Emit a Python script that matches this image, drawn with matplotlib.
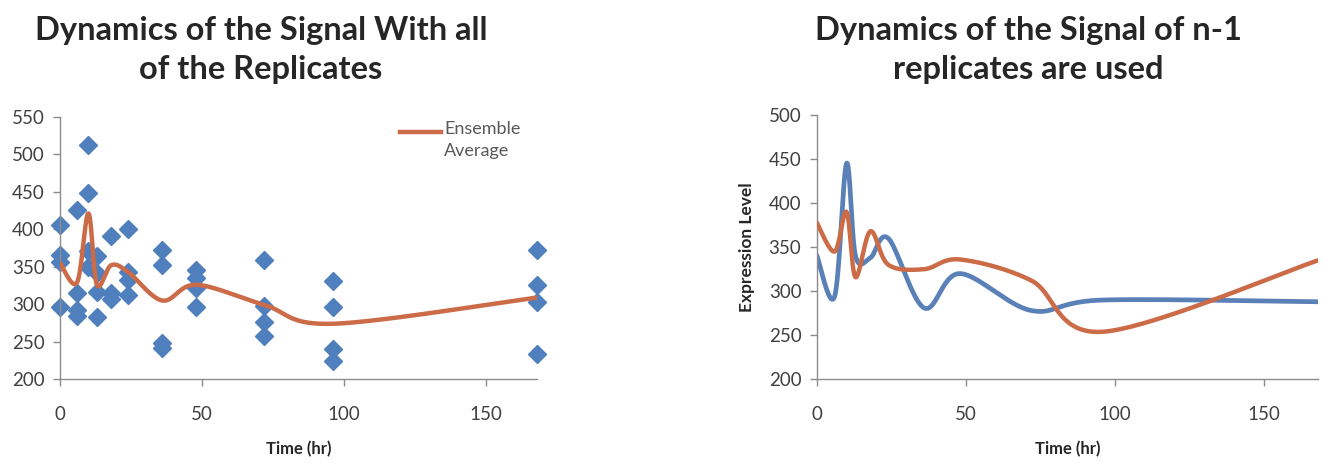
import numpy as np
import matplotlib
matplotlib.use("Agg")
import matplotlib.pyplot as plt
from matplotlib.lines import Line2D

plt.rcParams['font.family'] = ['Lato', 'DejaVu Sans']

# ---------------- data ----------------
# Left panel: replicate measurements at each time point
rep_times = [0, 6, 10, 13, 18, 24, 36, 48, 72, 96, 168]
rep_values = [
    [406, 366, 356, 296],
    [426, 315, 292, 285],
    [512, 448, 371, 350],
    [364, 342, 317, 283],
    [391, 315, 307],
    [400, 343, 332, 312],
    [372, 353, 249, 242],
    [346, 335, 322, 296],
    [359, 298, 277, 258],
    [331, 296, 240, 225],
    [372, 326, 303, 234],
]
ensemble_avg = [355, 329, 421, 326, 352, 343, 305, 326, 299, 274, 309]

# Right panel: n-1 replicate averages
blue_series = [341, 294, 445, 340, 338, 360, 281, 320, 278, 290, 288]
orange_series = [378, 345, 390, 316, 368, 330, 325, 336, 312, 254, 335]

left_title = "Dynamics of the Signal With all\nof the Replicates"
right_title = "Dynamics of the Signal of n-1\nreplicates are used"
x_label = "Time (hr)"
y_label_right = "Expression Level"
legend_label = "Ensemble\nAverage"

BLUE = "#4f7fbd"
BLUE_LINE = "#5a80b8"
ORANGE = "#cc6b47"
AXIS_GRAY = "#8c8c8c"
TEXT_GRAY = "#595959"


def excel_smooth(x, y, n=40):
    """Excel-style smoothed line: cubic Bezier segments through the points."""
    pts = np.column_stack([np.asarray(x, float), np.asarray(y, float)])
    out = []
    m = len(pts)
    for i in range(m - 1):
        p0 = pts[i - 1] if i > 0 else pts[i]
        p1 = pts[i]
        p2 = pts[i + 1]
        p3 = pts[i + 2] if i + 2 < m else pts[i + 1]
        c1 = p1 + (p2 - p0) / 6.0
        c2 = p2 - (p3 - p1) / 6.0
        t = np.linspace(0, 1, n, endpoint=(i == m - 2))[:, None]
        seg = ((1 - t) ** 3) * p1 + 3 * ((1 - t) ** 2) * t * c1 + 3 * (1 - t) * t ** 2 * c2 + t ** 3 * p2
        out.append(seg)
    out = np.vstack(out)
    return out[:, 0], out[:, 1]


def style_axes(ax, ymin, ymax):
    ax.set_xlim(0, 168)
    ax.set_ylim(ymin, ymax)
    ax.set_xticks([0, 50, 100, 150])
    ax.set_yticks(np.arange(ymin, ymax + 1, 50))
    for s in ("top", "right"):
        ax.spines[s].set_visible(False)
    for s in ("left", "bottom"):
        ax.spines[s].set_color(AXIS_GRAY)
        ax.spines[s].set_linewidth(1.0)
    ax.tick_params(axis="both", colors=AXIS_GRAY, labelcolor="#404040",
                   labelsize=13.5, length=5, width=1.0, direction="out")
    ax.tick_params(axis="x", pad=14)
    ax.tick_params(axis="y", pad=6)
    ax.set_xlabel(x_label, fontsize=12, fontweight="bold", color="#262626", labelpad=13)


fig = plt.figure(figsize=(13.26, 4.66), dpi=100)
W, H = 1326.0, 466.0

# ---------------- left panel ----------------
axL = fig.add_axes([60 / W, 1 - 379.3 / H, 477 / W, 262.6 / H])
sx, sy = [], []
for t, vals in zip(rep_times, rep_values):
    sx.extend([t] * len(vals))
    sy.extend(vals)
axL.plot(sx, sy, linestyle="none", marker="D", markersize=9.5, color=BLUE,
         markeredgecolor=BLUE, zorder=2, clip_on=False)
ex, ey = excel_smooth(rep_times, ensemble_avg)
axL.plot(ex, ey, color=ORANGE, lw=3.2, solid_capstyle="round", zorder=3)
style_axes(axL, 200, 550)

# legend (manual placement like Excel)
axL.add_line(Line2D([(400 - 60) / 477, (441 - 60) / 477],
                    [(379.3 - 132) / 262.6] * 2, transform=axL.transAxes,
                    color=ORANGE, lw=3.2, clip_on=False))
axL.text((444 - 60) / 477, (379.3 - 121) / 262.6, legend_label,
         transform=axL.transAxes, ha="left", va="top", fontsize=13,
         color=TEXT_GRAY, linespacing=1.45)

fig.text(261 / W, 1 - 50 / H, left_title, ha="center", va="center",
         fontsize=23.5, fontweight="bold", color="#262626", linespacing=1.38)

# ---------------- right panel ----------------
axR = fig.add_axes([816.7 / W, 1 - 379.3 / H, 501.3 / W, 264.3 / H])
bx, by = excel_smooth(rep_times, blue_series)
ox, oy = excel_smooth(rep_times, orange_series)
axR.plot(bx, by, color=BLUE_LINE, lw=3.4, solid_capstyle="round", zorder=2)
axR.plot(ox, oy, color=ORANGE, lw=3.2, solid_capstyle="round", zorder=3)
style_axes(axR, 200, 500)
axR.set_ylabel(y_label_right, fontsize=12.5, fontweight="bold", color="#262626", labelpad=10)

fig.text(1028 / W, 1 - 50 / H, right_title, ha="center", va="center",
         fontsize=23.5, fontweight="bold", color="#262626", linespacing=1.38)

fig.savefig("out.png", dpi=100, facecolor="white")
